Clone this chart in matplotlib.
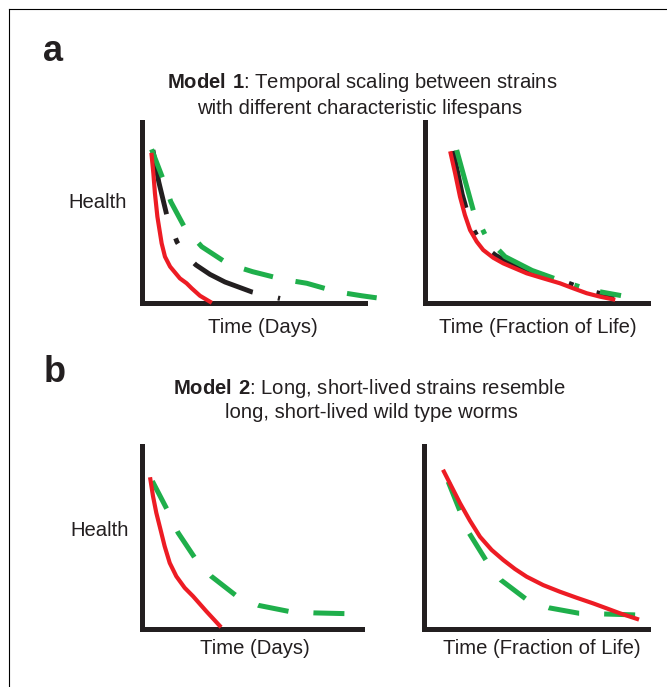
import matplotlib.pyplot as plt
from matplotlib.lines import Line2D

plt.rcParams["font.family"] = ["Liberation Sans", "DejaVu Sans"]
plt.rcParams["mathtext.fontset"] = "custom"
plt.rcParams["mathtext.rm"] = "Liberation Sans"
plt.rcParams["mathtext.bf"] = "Liberation Sans:bold"

# -------------------------------
# Curve values (time, health), axes scaled 0-100
# -------------------------------

# Model 1, time in days
a1_red_t = [4.3, 5.1, 5.8, 6.9, 8.8, 10.3, 12.6, 17.0, 20.0, 22.3, 26.0, 30.5]
a1_red_h = [81.8, 71.6, 60.6, 47.7, 33.0, 25.6, 20.1, 13.6, 10.9, 8.1, 4.0, 0.7]
a1_black_t = [4.9, 7.5, 11.2, 15.7, 19.5, 24.2, 30.5, 37.2, 49.3, 61.9]
a1_black_h = [84.5, 67.0, 48.1, 33.7, 26.5, 21.0, 15.8, 11.6, 6.1, 2.5]
a1_green_t = [4.3, 9.3, 12.9, 19.3, 26.8, 38.7, 49.6, 63.1, 73.9, 87.3, 98.5, 112.0]
a1_green_h = [84.9, 68.9, 56.0, 41.3, 31.1, 21.5, 17.3, 13.1, 10.9, 6.2, 4.0, 1.7]

# Model 1, time as fraction of life
a2_red_t = [11.5, 13.5, 15.7, 17.9, 20.2, 23.2, 26.1, 30.6, 35.1, 45.6, 53.1, 60.5, 66.5, 72.5, 78.5, 84.4]
a2_red_h = [82.7, 71.7, 58.7, 48.6, 40.3, 33.9, 29.3, 25.0, 21.9, 16.4, 13.6, 10.9, 8.1, 5.4, 3.5, 2.0]
a2_black_t = [12.6, 14.5, 16.7, 19.0, 21.2, 24.2, 27.1, 31.6, 36.1, 46.6, 54.1, 61.5, 67.5, 73.5, 79.5, 85.0]
a2_black_h = [84.0, 73.0, 60.0, 50.0, 41.8, 35.3, 30.7, 26.4, 23.3, 17.8, 15.0, 12.3, 9.5, 6.8, 5.0, 3.6]
a2_green_t = [14.2, 21.7, 27.4, 35.9, 48.0, 62.0, 74.0, 87.9]
a2_green_h = [84.5, 51.0, 36.6, 25.6, 18.0, 11.8, 7.2, 4.1]

# Model 2, time in days
b1_red_t = [3.8, 5.0, 6.5, 8.4, 10.3, 12.6, 15.6, 19.4, 23.2, 29.3, 35.3]
b1_red_h = [81.8, 72.6, 63.5, 54.4, 45.2, 36.1, 28.8, 22.5, 17.9, 9.6, 1.8]
b1_green_t = [4.7, 11.4, 16.4, 24.0, 31.5, 42.6, 53.0, 66.8, 78.2, 92.5]
b1_green_h = [80.8, 65.3, 52.6, 38.9, 28.8, 18.4, 12.9, 9.6, 8.8, 8.4]

# Model 2, time as fraction of life
b2_red_t = [8.9, 12.3, 16.1, 20.5, 25.0, 30.2, 35.4, 40.6, 45.8, 53.2, 60.6, 68.1, 75.5, 81.5, 87.4, 95.1]
b2_red_h = [86.0, 77.8, 68.7, 59.2, 50.4, 43.2, 37.7, 32.8, 28.6, 24.0, 20.4, 17.1, 14.0, 11.3, 8.6, 5.5]
b2_green_t = [10.8, 16.0, 20.2, 27.6, 34.3, 45.5, 55.7, 69.2, 80.4, 94.4]
b2_green_h = [80.5, 64.6, 52.3, 37.7, 26.8, 16.4, 11.6, 8.6, 8.2, 7.7]

RED = "#ED1C24"
GREEN = "#1FAF4B"
BLACK = "#231F20"

fig = plt.figure(figsize=(6.67, 6.87), dpi=100)

# frame lines at top and left
fig.add_artist(Line2D([9 / 667, 1], [1 - 9 / 687, 1 - 9 / 687], color="black", lw=0.8))
fig.add_artist(Line2D([9 / 667, 9 / 667], [0, 1 - 9 / 687], color="black", lw=0.8))


def make_axes(rect):
    ax = fig.add_axes(rect)
    ax.set_xlim(0, 100)
    ax.set_ylim(0, 100)
    ax.set_xticks([])
    ax.set_yticks([])
    ax.spines["top"].set_visible(False)
    ax.spines["right"].set_visible(False)
    for s in ("left", "bottom"):
        ax.spines[s].set_linewidth(3.6)
        ax.spines[s].set_color(BLACK)
        ax.spines[s].set_capstyle("projecting")
    ax.patch.set_alpha(0)
    return ax


ax_a1 = make_axes([142 / 667, 1 - 303 / 687, 223 / 667, 181 / 687])
ax_a2 = make_axes([425 / 667, 1 - 303 / 687, 223 / 667, 181 / 687])
ax_b1 = make_axes([142 / 667, 1 - 629 / 687, 220 / 667, 183 / 687])
ax_b2 = make_axes([424 / 667, 1 - 629 / 687, 224 / 667, 183 / 687])

# -------------------------------
# Model 1 curves
# -------------------------------

ax_a1.plot(a1_black_t, a1_black_h, color=BLACK, lw=3.5, dashes=(13.5, 5.3, 1.2, 5.3),
           clip_on=False, zorder=2)
ax_a1.plot(a1_green_t, a1_green_h, color=GREEN, lw=3.6, dashes=(6.0, 4.6),
           clip_on=False, zorder=3)
ax_a1.plot(a1_red_t, a1_red_h, color=RED, lw=3.0, solid_joinstyle="round",
           clip_on=False, zorder=4)

ax_a2.plot(a2_black_t, a2_black_h, color=BLACK, lw=3.5, dashes=(12, 5, 1, 5),
           clip_on=False, zorder=2)
ax_a2.plot(a2_green_t, a2_green_h, color=GREEN, lw=3.6, dashes=(12.5, 4.3, 1, 4.3),
           clip_on=False, zorder=3)
ax_a2.plot(a2_red_t, a2_red_h, color=RED, lw=3.0, solid_joinstyle="round",
           clip_on=False, zorder=4)

# -------------------------------
# Model 2 curves
# -------------------------------

ax_b1.plot(b1_green_t, b1_green_h, color=GREEN, lw=3.6, dashes=(6.2, 5.0),
           clip_on=False, zorder=3)
ax_b1.plot(b1_red_t, b1_red_h, color=RED, lw=3.0, solid_joinstyle="round",
           clip_on=False, zorder=4)

ax_b2.plot(b2_green_t, b2_green_h, color=GREEN, lw=3.6, dashes=(6.2, 5.0),
           clip_on=False, zorder=3)
ax_b2.plot(b2_red_t, b2_red_h, color=RED, lw=3.0, solid_joinstyle="round",
           clip_on=False, zorder=4)

# -------------------------------
# Text
# -------------------------------

txt = dict(fontsize=14.6, color=BLACK, ha="center", va="baseline")


def fx(px):
    return px / 667


def fy(py):
    return 1 - py / 687


fig.text(fx(43), fy(61), "a", fontsize=26, fontweight="bold", ha="left", va="baseline", color=BLACK)
fig.text(fx(44), fy(382), "b", fontsize=26, fontweight="bold", ha="left", va="baseline", color=BLACK)

fig.text(fx(362), fy(88), r"$\mathbf{Model\ 1}$: Temporal scaling between strains", **txt)
fig.text(fx(360), fy(113.5), "with different characteristic lifespans", **txt)
fig.text(fx(369), fy(394), r"$\mathbf{Model\ 2}$: Long, short-lived strains resemble", **txt)
fig.text(fx(371), fy(418.5), "long, short-lived wild type worms", **txt)

fig.text(fx(97.5), fy(208.5), "Health", **txt)
fig.text(fx(100), fy(535.5), "Health", **txt)
fig.text(fx(263), fy(333), "Time (Days)", **txt)
fig.text(fx(537.5), fy(333), "Time (Fraction of Life)", **txt)
fig.text(fx(255), fy(654), "Time (Days)", **txt)
fig.text(fx(541.5), fy(654), "Time (Fraction of Life)", **txt)

fig.savefig("out.png", dpi=100)
